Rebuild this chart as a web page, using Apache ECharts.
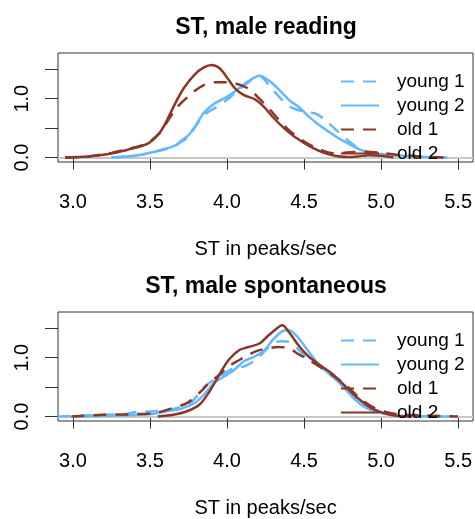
<!DOCTYPE html>
<html>
<head>
<meta charset="utf-8">
<script src="https://cdn.jsdelivr.net/npm/echarts@6/dist/echarts.min.js"></script>
<style>
  html, body { margin: 0; padding: 0; background: #fff; }
  #chart { width: 475px; height: 519px; }
</style>
</head>
<body>
<div id="chart"></div>
<script>
const seriesNames = ['young 1', 'young 2', 'old 1', 'old 2'];
const panelTitles = ['ST, male reading', 'ST, male spontaneous'];
const xTicks = [3.0, 3.5, 4.0, 4.5, 5.0, 5.5];
const yTicks = [0, 0.5, 1.0, 1.5];
const yLabels = [0, 1.0];

// reading
const readYoung1X = [3.25, 3.35, 3.45, 3.53, 3.6, 3.66, 3.7, 3.75, 3.8, 3.85, 3.92, 4.0, 4.07, 4.13, 4.21, 4.28, 4.35, 4.41, 4.5, 4.58, 4.65, 4.72, 4.8, 4.88, 4.98, 5.1, 5.25, 5.43];
const readYoung1Y = [0, 0.02, 0.05, 0.1, 0.14, 0.19, 0.26, 0.35, 0.55, 0.72, 0.84, 0.98, 1.14, 1.26, 1.39, 1.2, 1.0, 0.86, 0.78, 0.74, 0.61, 0.44, 0.26, 0.12, 0.07, 0.04, 0.02, 0];
const readYoung2X = [3.25, 3.35, 3.45, 3.53, 3.6, 3.66, 3.7, 3.75, 3.79, 3.85, 3.92, 4.0, 4.07, 4.13, 4.21, 4.28, 4.35, 4.41, 4.47, 4.53, 4.6, 4.66, 4.73, 4.8, 4.86, 4.92, 4.98, 5.05, 5.15, 5.3, 5.43];
const readYoung2Y = [0, 0.02, 0.05, 0.1, 0.15, 0.2, 0.28, 0.38, 0.52, 0.76, 0.92, 1.03, 1.16, 1.28, 1.39, 1.29, 1.12, 0.96, 0.85, 0.7, 0.55, 0.44, 0.32, 0.22, 0.14, 0.09, 0.07, 0.05, 0.03, 0.01, 0];
const readOld1X = [2.95, 3.1, 3.25, 3.35, 3.45, 3.5, 3.56, 3.6, 3.66, 3.7, 3.79, 3.85, 3.92, 4.0, 4.09, 4.15, 4.21, 4.27, 4.33, 4.4, 4.5, 4.6, 4.7, 4.8, 4.9, 5.0, 5.1, 5.2, 5.3, 5.45];
const readOld1Y = [0, 0.02, 0.08, 0.14, 0.21, 0.27, 0.41, 0.56, 0.8, 0.92, 1.13, 1.23, 1.28, 1.28, 1.23, 1.15, 1.0, 0.84, 0.66, 0.47, 0.27, 0.14, 0.07, 0.09, 0.1, 0.08, 0.05, 0.03, 0.01, 0];
const readOld2X = [2.95, 3.1, 3.25, 3.35, 3.45, 3.5, 3.56, 3.6, 3.66, 3.72, 3.79, 3.85, 3.9, 3.95, 4.0, 4.05, 4.11, 4.18, 4.24, 4.3, 4.37, 4.43, 4.5, 4.56, 4.63, 4.7, 4.78, 4.85, 4.92, 5.0, 5.08];
const readOld2Y = [0, 0.02, 0.07, 0.13, 0.2, 0.26, 0.41, 0.58, 0.9, 1.18, 1.41, 1.53, 1.57, 1.52, 1.36, 1.18, 1.06, 0.99, 0.86, 0.68, 0.5, 0.37, 0.25, 0.16, 0.08, 0.03, 0.01, 0.02, 0.04, 0.03, 0];

// spontaneous
const spontYoung1X = [2.9, 3.2, 3.35, 3.42, 3.53, 3.63, 3.74, 3.79, 3.85, 3.92, 3.98, 4.05, 4.11, 4.18, 4.24, 4.3, 4.36, 4.4, 4.455, 4.52, 4.6, 4.72, 4.82, 4.9, 5.0, 5.1, 5.25, 5.42];
const spontYoung1Y = [0, 0.03, 0.05, 0.08, 0.09, 0.12, 0.2, 0.3, 0.5, 0.63, 0.73, 0.83, 0.85, 0.95, 1.1, 1.25, 1.28, 1.27, 1.16, 0.99, 0.85, 0.6, 0.34, 0.17, 0.07, 0.03, 0.01, 0];
const spontYoung2X = [3.0, 3.3, 3.5, 3.63, 3.7, 3.79, 3.85, 3.92, 3.98, 4.05, 4.11, 4.18, 4.24, 4.3, 4.36, 4.4, 4.455, 4.52, 4.6, 4.72, 4.82, 4.9, 5.0, 5.1, 5.3, 5.45];
const spontYoung2Y = [0, 0.02, 0.04, 0.1, 0.13, 0.23, 0.37, 0.58, 0.68, 0.8, 0.94, 1.02, 1.12, 1.31, 1.45, 1.47, 1.36, 1.14, 0.87, 0.6, 0.32, 0.15, 0.06, 0.02, 0.005, 0];
const spontOld1X = [2.99, 3.2, 3.4, 3.53, 3.63, 3.74, 3.82, 3.885, 3.95, 4.01, 4.08, 4.14, 4.2, 4.27, 4.33, 4.4, 4.47, 4.53, 4.6, 4.68, 4.77, 4.85, 4.94, 5.03, 5.11, 5.28, 5.5];
const spontOld1Y = [0, 0.03, 0.04, 0.06, 0.13, 0.23, 0.4, 0.57, 0.71, 0.85, 0.96, 1.05, 1.12, 1.16, 1.18, 1.16, 1.05, 0.96, 0.85, 0.71, 0.54, 0.34, 0.17, 0.08, 0.04, 0.02, 0];
const spontOld2X = [3.55, 3.65, 3.74, 3.82, 3.885, 3.95, 4.01, 4.08, 4.14, 4.21, 4.27, 4.34, 4.36, 4.4, 4.47, 4.53, 4.6, 4.68, 4.77, 4.85, 4.94, 5.03, 5.11, 5.2];
const spontOld2Y = [0, 0.03, 0.09, 0.2, 0.42, 0.71, 0.96, 1.13, 1.18, 1.24, 1.38, 1.53, 1.55, 1.44, 1.19, 1.02, 0.88, 0.73, 0.51, 0.31, 0.14, 0.05, 0.01, 0];

const BLUE = '#63B8FF';
const BROWN = '#8B3626';
const FONT = 'Liberation Sans, Arial, sans-serif';

const panels = [
  [[readYoung1X, readYoung1Y], [readYoung2X, readYoung2Y], [readOld1X, readOld1Y], [readOld2X, readOld2Y]],
  [[spontYoung1X, spontYoung1Y], [spontYoung2X, spontYoung2Y], [spontOld1X, spontOld1Y], [spontOld2X, spontOld2Y]]
];
const colors = [BLUE, BLUE, BROWN, BROWN];
const dashed = [true, false, true, false];
const gridTops = [53, 312];

const pairs = (xs, ys) => xs.map((x, i) => [x, ys[i]]);

const series = [];
panels.forEach((panel, p) => {
  panel.forEach((d, i) => {
    const s = {
      name: seriesNames[i],
      type: 'line',
      xAxisIndex: p,
      yAxisIndex: p,
      data: pairs(d[0], d[1]),
      smooth: 0.3,
      showSymbol: false,
      symbol: 'none',
      lineStyle: {
        color: colors[i],
        width: 2.5,
        type: dashed[i] ? [13, 9] : 'solid'
      },
      itemStyle: { color: colors[i] },
      z: 3
    };
    if (i === 0) {
      s.markLine = {
        silent: true,
        symbol: 'none',
        label: { show: false },
        lineStyle: { color: '#c8c8c8', type: 'solid', width: 2 },
        data: [{ yAxis: 0 }],
        z: 1
      };
    }
    series.push(s);
  });
});

const chart = echarts.init(document.getElementById('chart'));
chart.setOption({
  animation: false,
  backgroundColor: '#fff',
  textStyle: { fontFamily: FONT },
  title: panelTitles.map((t, p) => ({
    text: t,
    left: 266,
    top: gridTops[p] - 37,
    padding: 0,
    textAlign: 'center',
    textStyle: { fontSize: 23, fontWeight: 'bold', color: '#000', fontFamily: FONT }
  })),
  legend: gridTops.map((top, p) => ({
    data: seriesNames,
    orient: 'vertical',
    left: 340,
    top: top + 19,
    padding: 0,
    itemWidth: 38,
    itemHeight: 14,
    itemGap: 5,
    itemStyle: { opacity: 0 },
    textStyle: { fontSize: 19, color: '#000', fontFamily: FONT, padding: [0, 0, 0, 13] }
  })),
  grid: gridTops.map(top => ({
    left: 58,
    right: 0,
    top: top,
    height: 109,
    show: true,
    borderColor: '#333',
    borderWidth: 1,
    backgroundColor: 'transparent'
  })),
  xAxis: gridTops.map((t, p) => ({
    type: 'value',
    gridIndex: p,
    min: 2.903,
    max: 5.597,
    name: 'ST in peaks/sec',
    nameLocation: 'middle',
    nameGap: 77,
    nameTextStyle: { fontSize: 20, color: '#000', fontFamily: FONT },
    axisLine: { show: false },
    splitLine: { show: false },
    axisTick: { show: true, length: 12, customValues: xTicks, lineStyle: { color: '#333' } },
    axisLabel: {
      customValues: xTicks,
      margin: 30,
      fontSize: 20,
      color: '#000',
      formatter: v => v.toFixed(1)
    }
  })),
  yAxis: gridTops.map((t, p) => ({
    type: 'value',
    gridIndex: p,
    min: -0.075,
    max: 1.775,
    axisLine: { show: false },
    splitLine: { show: false },
    axisTick: { show: true, length: 13, customValues: yTicks, lineStyle: { color: '#333' } },
    axisLabel: {
      customValues: yLabels,
      rotate: 90,
      margin: 26,
      fontSize: 20,
      color: '#000',
      formatter: v => v.toFixed(1)
    }
  })),
  series: series
});
</script>
</body>
</html>
